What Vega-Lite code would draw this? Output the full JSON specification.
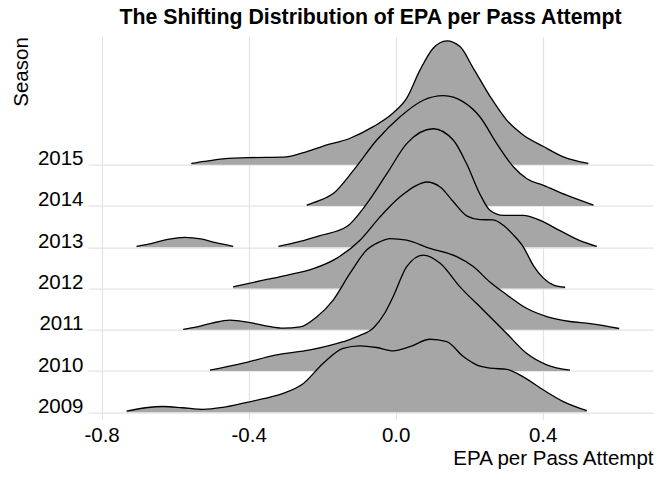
{
"$schema": "https://vega.github.io/schema/vega-lite/v6.json",
"width": 565, "height": 375.6,
"autosize": {"type": "none"},
"padding": {"left": 88, "top": 36.7, "right": 19, "bottom": 67.7},
"background": "white",
"title": {"text": "The Shifting Distribution of EPA per Pass Attempt", "fontSize": 21.3, "fontWeight": "bold", "font": "Liberation Sans", "anchor": "middle", "color": "#000", "offset": 8},
"data": {"values": [
{"season":2015,"piece":1,"epa":-0.556,"top":2015.03},{"season":2015,"piece":1,"epa":-0.52,"top":2015.08},{"season":2015,"piece":1,"epa":-0.469,"top":2015.14},{"season":2015,"piece":1,"epa":-0.401,"top":2015.17},{"season":2015,"piece":1,"epa":-0.306,"top":2015.18},{"season":2015,"piece":1,"epa":-0.251,"top":2015.29},{"season":2015,"piece":1,"epa":-0.197,"top":2015.45},{"season":2015,"piece":1,"epa":-0.124,"top":2015.64},{"season":2015,"piece":1,"epa":-0.061,"top":2015.92},{"season":2015,"piece":1,"epa":-0.007,"top":2016.25},{"season":2015,"piece":1,"epa":0.03,"top":2016.61},{"season":2015,"piece":1,"epa":0.066,"top":2017.29},{"season":2015,"piece":1,"epa":0.102,"top":2017.82},{"season":2015,"piece":1,"epa":0.139,"top":2018.0},{"season":2015,"piece":1,"epa":0.175,"top":2017.86},{"season":2015,"piece":1,"epa":0.211,"top":2017.34},{"season":2015,"piece":1,"epa":0.257,"top":2016.65},{"season":2015,"piece":1,"epa":0.302,"top":2016.08},{"season":2015,"piece":1,"epa":0.347,"top":2015.72},{"season":2015,"piece":1,"epa":0.402,"top":2015.44},{"season":2015,"piece":1,"epa":0.456,"top":2015.19},{"season":2015,"piece":1,"epa":0.524,"top":2015.03},

{"season":2014,"piece":1,"epa":-0.242,"top":2014.02},{"season":2014,"piece":1,"epa":-0.21,"top":2014.12},{"season":2014,"piece":1,"epa":-0.17,"top":2014.30},{"season":2014,"piece":1,"epa":-0.115,"top":2014.86},{"season":2014,"piece":1,"epa":-0.052,"top":2015.59},{"season":2014,"piece":1,"epa":0.012,"top":2016.16},{"season":2014,"piece":1,"epa":0.075,"top":2016.56},{"season":2014,"piece":1,"epa":0.13,"top":2016.67},{"season":2014,"piece":1,"epa":0.184,"top":2016.52},{"season":2014,"piece":1,"epa":0.229,"top":2016.16},{"season":2014,"piece":1,"epa":0.275,"top":2015.51},{"season":2014,"piece":1,"epa":0.32,"top":2014.95},{"season":2014,"piece":1,"epa":0.357,"top":2014.66},{"season":2014,"piece":1,"epa":0.402,"top":2014.50},{"season":2014,"piece":1,"epa":0.465,"top":2014.26},{"season":2014,"piece":1,"epa":0.538,"top":2014.02},

{"season":2013,"piece":1,"epa":-0.705,"top":2013.02},{"season":2013,"piece":1,"epa":-0.66,"top":2013.10},{"season":2013,"piece":1,"epa":-0.62,"top":2013.19},{"season":2013,"piece":1,"epa":-0.573,"top":2013.24},{"season":2013,"piece":1,"epa":-0.53,"top":2013.20},{"season":2013,"piece":1,"epa":-0.49,"top":2013.11},{"season":2013,"piece":1,"epa":-0.442,"top":2013.02},
{"season":2013,"piece":2,"epa":-0.319,"top":2013.02},{"season":2013,"piece":2,"epa":-0.26,"top":2013.14},{"season":2013,"piece":2,"epa":-0.206,"top":2013.28},{"season":2013,"piece":2,"epa":-0.133,"top":2013.50},{"season":2013,"piece":2,"epa":-0.079,"top":2014.05},{"season":2013,"piece":2,"epa":-0.024,"top":2014.78},{"season":2013,"piece":2,"epa":0.03,"top":2015.51},{"season":2013,"piece":2,"epa":0.102,"top":2015.87},{"season":2013,"piece":2,"epa":0.157,"top":2015.59},{"season":2013,"piece":2,"epa":0.193,"top":2015.02},{"season":2013,"piece":2,"epa":0.229,"top":2014.29},{"season":2013,"piece":2,"epa":0.257,"top":2013.89},{"season":2013,"piece":2,"epa":0.293,"top":2013.77},{"season":2013,"piece":2,"epa":0.347,"top":2013.77},{"season":2013,"piece":2,"epa":0.393,"top":2013.65},{"season":2013,"piece":2,"epa":0.447,"top":2013.40},{"season":2013,"piece":2,"epa":0.501,"top":2013.16},{"season":2013,"piece":2,"epa":0.547,"top":2013.02},

{"season":2012,"piece":1,"epa":-0.442,"top":2012.04},{"season":2012,"piece":1,"epa":-0.36,"top":2012.20},{"season":2012,"piece":1,"epa":-0.297,"top":2012.32},{"season":2012,"piece":1,"epa":-0.224,"top":2012.48},{"season":2012,"piece":1,"epa":-0.161,"top":2012.73},{"season":2012,"piece":1,"epa":-0.097,"top":2013.17},{"season":2012,"piece":1,"epa":-0.043,"top":2013.73},{"season":2012,"piece":1,"epa":0.012,"top":2014.22},{"season":2012,"piece":1,"epa":0.057,"top":2014.50},{"season":2012,"piece":1,"epa":0.084,"top":2014.58},{"season":2012,"piece":1,"epa":0.121,"top":2014.46},{"season":2012,"piece":1,"epa":0.157,"top":2014.10},{"season":2012,"piece":1,"epa":0.193,"top":2013.76},{"season":2012,"piece":1,"epa":0.229,"top":2013.67},{"season":2012,"piece":1,"epa":0.265,"top":2013.66},{"season":2012,"piece":1,"epa":0.293,"top":2013.53},{"season":2012,"piece":1,"epa":0.32,"top":2013.30},{"season":2012,"piece":1,"epa":0.347,"top":2013.01},{"season":2012,"piece":1,"epa":0.375,"top":2012.55},{"season":2012,"piece":1,"epa":0.402,"top":2012.25},{"season":2012,"piece":1,"epa":0.43,"top":2012.08},{"season":2012,"piece":1,"epa":0.461,"top":2012.03},

{"season":2011,"piece":1,"epa":-0.578,"top":2011.01},{"season":2011,"piece":1,"epa":-0.54,"top":2011.07},{"season":2011,"piece":1,"epa":-0.5,"top":2011.16},{"season":2011,"piece":1,"epa":-0.451,"top":2011.235},{"season":2011,"piece":1,"epa":-0.4,"top":2011.18},{"season":2011,"piece":1,"epa":-0.35,"top":2011.09},{"season":2011,"piece":1,"epa":-0.306,"top":2011.04},{"season":2011,"piece":1,"epa":-0.26,"top":2011.07},{"season":2011,"piece":1,"epa":-0.215,"top":2011.31},{"season":2011,"piece":1,"epa":-0.17,"top":2011.72},{"season":2011,"piece":1,"epa":-0.124,"top":2012.37},{"season":2011,"piece":1,"epa":-0.079,"top":2012.93},{"season":2011,"piece":1,"epa":-0.043,"top":2013.13},{"season":2011,"piece":1,"epa":-0.016,"top":2013.21},{"season":2011,"piece":1,"epa":0.03,"top":2013.17},{"season":2011,"piece":1,"epa":0.093,"top":2012.97},{"season":2011,"piece":1,"epa":0.166,"top":2012.77},{"season":2011,"piece":1,"epa":0.211,"top":2012.53},{"season":2011,"piece":1,"epa":0.257,"top":2012.15},{"season":2011,"piece":1,"epa":0.302,"top":2011.85},{"season":2011,"piece":1,"epa":0.356,"top":2011.52},{"season":2011,"piece":1,"epa":0.411,"top":2011.32},{"season":2011,"piece":1,"epa":0.474,"top":2011.20},{"season":2011,"piece":1,"epa":0.529,"top":2011.15},{"season":2011,"piece":1,"epa":0.608,"top":2011.03},

{"season":2010,"piece":1,"epa":-0.505,"top":2010.02},{"season":2010,"piece":1,"epa":-0.415,"top":2010.19},{"season":2010,"piece":1,"epa":-0.324,"top":2010.39},{"season":2010,"piece":1,"epa":-0.233,"top":2010.51},{"season":2010,"piece":1,"epa":-0.143,"top":2010.71},{"season":2010,"piece":1,"epa":-0.1,"top":2010.85},{"season":2010,"piece":1,"epa":-0.06,"top":2011.05},{"season":2010,"piece":1,"epa":-0.03,"top":2011.40},{"season":2010,"piece":1,"epa":-0.007,"top":2011.80},{"season":2010,"piece":1,"epa":0.03,"top":2012.53},{"season":2010,"piece":1,"epa":0.075,"top":2012.81},{"season":2010,"piece":1,"epa":0.121,"top":2012.61},{"season":2010,"piece":1,"epa":0.175,"top":2012.04},{"season":2010,"piece":1,"epa":0.238,"top":2011.48},{"season":2010,"piece":1,"epa":0.302,"top":2010.91},{"season":2010,"piece":1,"epa":0.356,"top":2010.43},{"season":2010,"piece":1,"epa":0.411,"top":2010.15},{"season":2010,"piece":1,"epa":0.474,"top":2010.02},

{"season":2009,"piece":1,"epa":-0.732,"top":2009.03},{"season":2009,"piece":1,"epa":-0.68,"top":2009.11},{"season":2009,"piece":1,"epa":-0.632,"top":2009.14},{"season":2009,"piece":1,"epa":-0.58,"top":2009.11},{"season":2009,"piece":1,"epa":-0.524,"top":2009.07},{"season":2009,"piece":1,"epa":-0.47,"top":2009.12},{"season":2009,"piece":1,"epa":-0.415,"top":2009.22},{"season":2009,"piece":1,"epa":-0.36,"top":2009.33},{"season":2009,"piece":1,"epa":-0.306,"top":2009.46},{"season":2009,"piece":1,"epa":-0.251,"top":2009.70},{"season":2009,"piece":1,"epa":-0.197,"top":2010.19},{"season":2009,"piece":1,"epa":-0.143,"top":2010.55},{"season":2009,"piece":1,"epa":-0.097,"top":2010.61},{"season":2009,"piece":1,"epa":-0.052,"top":2010.57},{"season":2009,"piece":1,"epa":-0.007,"top":2010.49},{"season":2009,"piece":1,"epa":0.039,"top":2010.59},{"season":2009,"piece":1,"epa":0.093,"top":2010.77},{"season":2009,"piece":1,"epa":0.139,"top":2010.71},{"season":2009,"piece":1,"epa":0.184,"top":2010.35},{"season":2009,"piece":1,"epa":0.22,"top":2010.15},{"season":2009,"piece":1,"epa":0.257,"top":2010.07},{"season":2009,"piece":1,"epa":0.302,"top":2010.04},{"season":2009,"piece":1,"epa":0.347,"top":2009.86},{"season":2009,"piece":1,"epa":0.402,"top":2009.54},{"season":2009,"piece":1,"epa":0.456,"top":2009.26},{"season":2009,"piece":1,"epa":0.52,"top":2009.04}
]},
"encoding": {
  "x": {"field": "epa", "type": "quantitative", "scale": {"domain": [-0.837, 0.7], "nice": false, "zero": false},
        "axis": {"values": [-0.8, -0.4, 0, 0.4], "labelExpr": "datum.value < 0 ? '-' + format(-datum.value, '.1f') : format(datum.value, '.1f')", "title": "EPA per Pass Attempt", "titleAnchor": "end", "grid": true, "domain": false, "ticks": true, "tickSize": 7, "tickColor": "#E3E3E3", "tickWidth": 1.2, "labelPadding": 6, "titlePadding": 3}},
  "y": {"field": "top", "type": "quantitative", "scale": {"domain": [2009, 2018.1], "nice": false, "zero": false},
        "axis": {"values": [2009, 2010, 2011, 2012, 2013, 2014, 2015], "format": "d", "title": "Season", "titleAnchor": "end", "grid": true, "domain": false, "ticks": false, "labelBaseline": "alphabetic", "labelPadding": 5, "titlePadding": 6}},
  "detail": {"field": "piece", "type": "nominal"}
},
"layer": [
  {"transform": [{"filter": "datum.season == 2015"}], "layer": [
    {"mark": {"type": "area", "interpolate": "monotone", "color": "#A6A6A6"}, "encoding": {"y2": {"field": "season"}}},
    {"mark": {"type": "line", "interpolate": "monotone", "color": "#000", "strokeWidth": 1.3}, "encoding": {}}]},
  {"transform": [{"filter": "datum.season == 2014"}], "layer": [
    {"mark": {"type": "area", "interpolate": "monotone", "color": "#A6A6A6"}, "encoding": {"y2": {"field": "season"}}},
    {"mark": {"type": "line", "interpolate": "monotone", "color": "#000", "strokeWidth": 1.3}, "encoding": {}}]},
  {"transform": [{"filter": "datum.season == 2013"}], "layer": [
    {"mark": {"type": "area", "interpolate": "monotone", "color": "#A6A6A6"}, "encoding": {"y2": {"field": "season"}}},
    {"mark": {"type": "line", "interpolate": "monotone", "color": "#000", "strokeWidth": 1.3}, "encoding": {}}]},
  {"transform": [{"filter": "datum.season == 2012"}], "layer": [
    {"mark": {"type": "area", "interpolate": "monotone", "color": "#A6A6A6"}, "encoding": {"y2": {"field": "season"}}},
    {"mark": {"type": "line", "interpolate": "monotone", "color": "#000", "strokeWidth": 1.3}, "encoding": {}}]},
  {"transform": [{"filter": "datum.season == 2011"}], "layer": [
    {"mark": {"type": "area", "interpolate": "monotone", "color": "#A6A6A6"}, "encoding": {"y2": {"field": "season"}}},
    {"mark": {"type": "line", "interpolate": "monotone", "color": "#000", "strokeWidth": 1.3}, "encoding": {}}]},
  {"transform": [{"filter": "datum.season == 2010"}], "layer": [
    {"mark": {"type": "area", "interpolate": "monotone", "color": "#A6A6A6"}, "encoding": {"y2": {"field": "season"}}},
    {"mark": {"type": "line", "interpolate": "monotone", "color": "#000", "strokeWidth": 1.3}, "encoding": {}}]},
  {"transform": [{"filter": "datum.season == 2009"}], "layer": [
    {"mark": {"type": "area", "interpolate": "monotone", "color": "#A6A6A6"}, "encoding": {"y2": {"field": "season"}}},
    {"mark": {"type": "line", "interpolate": "monotone", "color": "#000", "strokeWidth": 1.3}, "encoding": {}}]}
],
"config": {
  "view": {"stroke": null},
  "font": "Liberation Sans",
  "axis": {"labelFont": "Liberation Sans", "titleFont": "Liberation Sans", "labelFontSize": 20.5, "titleFontSize": 20.5, "labelColor": "#000", "titleColor": "#000", "titleFontWeight": "normal", "gridColor": "#E3E3E3", "gridWidth": 1.2}
}
}
